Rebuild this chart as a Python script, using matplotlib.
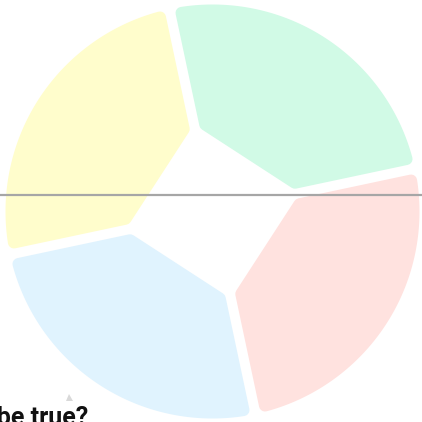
import numpy as np
import matplotlib
matplotlib.use("Agg")
import matplotlib.pyplot as plt
from matplotlib.patches import Polygon

# data
labels = ["A", "B", "C", "D"]
values = [25, 25, 25, 25]
colors = ["#FFFDCC", "#E0F3FE", "#FFE2DF", "#D1FAE6"]
question = "Which of these statements must be true?"

W = H = 422
CX, CY = 212.5, 211.5        # pie centre, pixel coords (y down)
R_OUT = 207                  # outer radius
C_IN = 63                    # distance of the inner flat edge
HALF_GAP = 5
RC = 6                       # corner rounding
START = 102                  # degrees

fig = plt.figure(figsize=(W / 100, H / 100), dpi=100)
fig.patch.set_facecolor("white")
ax = fig.add_axes([0, 0, 1, 1])
ax.set_xlim(0, W); ax.set_ylim(H, 0); ax.axis("off")
px = 72 / fig.dpi


def wedge_pts(a0, a1):
    # polygon shrunk by RC, stroked later with round joins
    a0, a1 = np.radians(a0), np.radians(a1)
    h, ro, ci = HALF_GAP + RC, R_OUT - RC, C_IN + RC
    b = np.array([np.cos((a0 + a1) / 2), np.sin((a0 + a1) / 2)])
    u0, u1 = np.array([np.cos(a0), np.sin(a0)]), np.array([np.cos(a1), np.sin(a1)])
    n0, n1 = np.array([-u0[1], u0[0]]), np.array([-u1[1], u1[0]])
    p0 = h * n0 + (ci - h * n0 @ b) / (u0 @ b) * u0
    p1 = -h * n1 + (ci + h * n1 @ b) / (u1 @ b) * u1
    t = np.linspace(a0 + np.arcsin(h / ro), a1 - np.arcsin(h / ro), 80)
    arc = np.column_stack([ro * np.cos(t), ro * np.sin(t)])
    pts = np.vstack([p0, arc, p1])
    return np.column_stack([CX + pts[:, 0], CY - pts[:, 1]])


angles = START + 360 * np.concatenate([[0], np.cumsum(values)]) / sum(values)
for i, (lab, col) in enumerate(zip(labels, colors)):
    ax.add_patch(Polygon(wedge_pts(angles[i], angles[i + 1]), closed=True,
                         fc=col, ec=col, lw=2 * RC * px, joinstyle="round"))

ax.axhline(195, color="#a6a6a6", lw=2.2 * px)
ax.plot([69], [396.5], marker="^", ms=7 * px, color="#d9d9d9", mew=0)
ax.text(88, 425, question, ha="right", va="baseline", fontsize=25 * px,
        fontweight="bold", family=["Roboto", "DejaVu Sans"], color="#111111")

fig.savefig("out.png", dpi=100, facecolor="white")
